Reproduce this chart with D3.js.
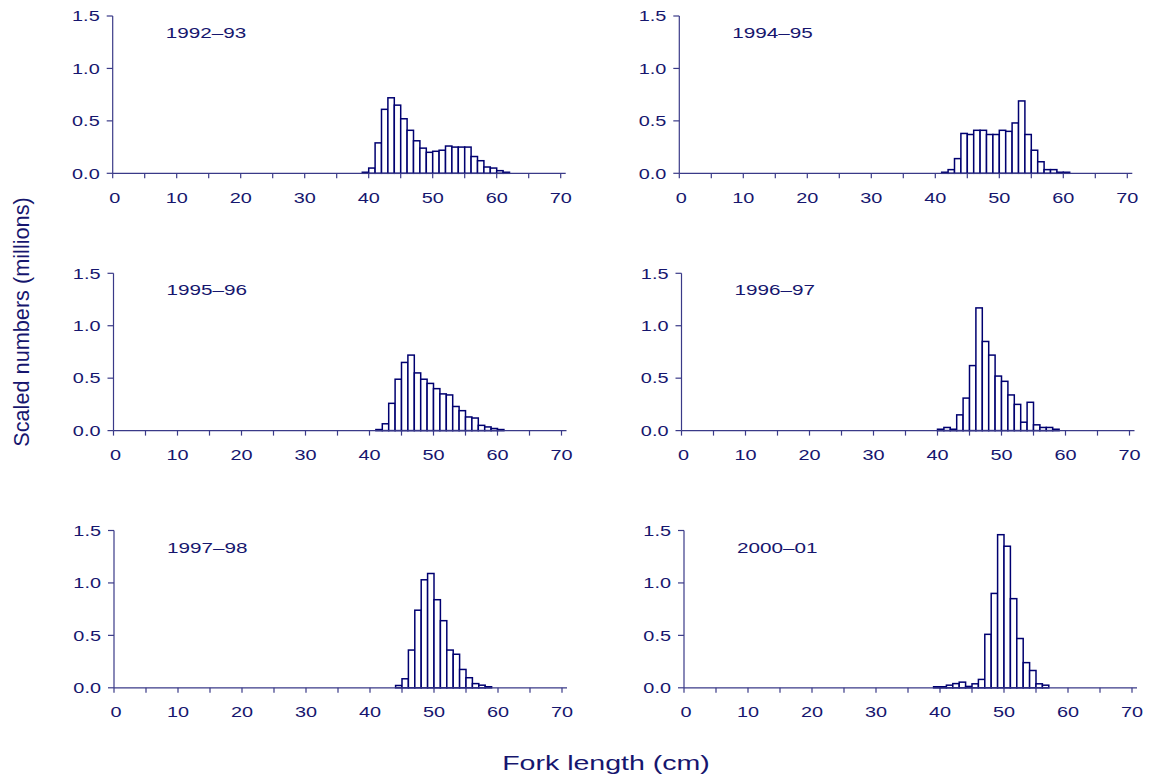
<!DOCTYPE html>
<html>
<head>
<meta charset="utf-8">
<script src="https://cdn.jsdelivr.net/npm/d3@7.9.0/dist/d3.min.js"></script>
<style>
  html, body { margin: 0; padding: 0; background: #fff; }
  svg { display: block; font-family: 'Liberation Sans', Arial, sans-serif; }
</style>
</head>
<body>
<svg id="chart" width="1151" height="778"></svg>
<script>
// ====== Data (scaled numbers, millions, per 1 cm fork-length bin) ======
const seasons = ['1992–93', '1994–95', '1995–96', '1996–97', '1997–98', '2000–01'];
const firstBin = [39, 41, 41, 40, 44, 39];

const counts1992 = [0.01, 0.05, 0.29, 0.61, 0.72, 0.65, 0.52, 0.41, 0.31, 0.24, 0.20, 0.21,
  0.22, 0.26, 0.25, 0.25, 0.25, 0.16, 0.12, 0.06, 0.05, 0.025, 0.01];
const counts1994 = [0.01, 0.035, 0.14, 0.38, 0.37, 0.41, 0.41, 0.37, 0.37, 0.41, 0.40, 0.48,
  0.69, 0.37, 0.22, 0.11, 0.035, 0.035, 0.01, 0.01];
const counts1995 = [0.01, 0.065, 0.26, 0.49, 0.65, 0.72, 0.55, 0.49, 0.45, 0.40, 0.35, 0.34,
  0.23, 0.19, 0.13, 0.12, 0.05, 0.035, 0.02, 0.01];
const counts1996 = [0.013, 0.03, 0.013, 0.15, 0.31, 0.62, 1.17, 0.85, 0.72, 0.52, 0.47, 0.34,
  0.25, 0.08, 0.27, 0.055, 0.03, 0.03, 0.013];
const counts1997 = [0.022, 0.086, 0.36, 0.74, 1.03, 1.09, 0.84, 0.64, 0.36, 0.32, 0.175,
  0.096, 0.04, 0.025, 0.01];
const counts2000 = [0.01, 0.01, 0.025, 0.04, 0.054, 0.013, 0.038, 0.08, 0.51, 0.90, 1.46,
  1.35, 0.85, 0.47, 0.24, 0.165, 0.038, 0.025];
const allCounts = [counts1992, counts1994, counts1995, counts1996, counts1997, counts2000];

const xTicks = [0, 10, 20, 30, 40, 50, 60, 70];
const xMinorTicks = [5, 15, 25, 35, 45, 55, 65];
const yTicks = [0, 0.5, 1.0, 1.5];

// ====== Layout ======
const ink = '#16166e';
const axisInk = '#3a3a88';
const colX0 = [[112.7, 679.3], [113.5, 681.5], [114, 684]];
const rowTop = [16, 273.3, 530.5];
const panelH = 157.3;
const unitW = 6.4;
const stretch = 1.38;

const svg = d3.select('#chart');

function stretchedText(g, x, y, str, size, anchor) {
  return g.append('text')
    .attr('transform', `translate(${x},${y}) scale(${stretch},1)`)
    .attr('text-anchor', anchor)
    .attr('font-size', size)
    .attr('fill', ink)
    .text(str);
}

seasons.forEach((season, k) => {
  const row = Math.floor(k / 2);
  const col = k % 2;
  const x0 = colX0[row][col];
  const top = rowTop[row];

  const x = d3.scaleLinear().domain([0, 70]).range([x0, x0 + 70 * unitW]);
  const y = d3.scaleLinear().domain([0, 1.5]).range([top + panelH, top]);
  const g = svg.append('g');

  // bars
  const bars = allCounts[k].map((v, i) => ({ bin: firstBin[k] + i, value: v }));
  g.selectAll('rect')
    .data(bars)
    .join('rect')
    .attr('x', (d) => x(d.bin))
    .attr('y', (d) => y(d.value))
    .attr('width', (d) => x(d.bin + 1) - x(d.bin))
    .attr('height', (d) => y(0) - y(d.value))
    .attr('fill', '#fff')
    .attr('stroke', '#000070')
    .attr('stroke-width', 1.5);

  // axes lines
  g.append('line')
    .attr('x1', x(0)).attr('x2', x(70) + 5)
    .attr('y1', y(0)).attr('y2', y(0))
    .attr('stroke', axisInk).attr('stroke-width', 1.2);
  g.append('line')
    .attr('x1', x(0)).attr('x2', x(0))
    .attr('y1', y(1.5)).attr('y2', y(0))
    .attr('stroke', axisInk).attr('stroke-width', 1.2);

  // x ticks (major + minor)
  g.selectAll('line.xt')
    .data(xTicks.concat(xMinorTicks))
    .join('line')
    .attr('class', 'xt')
    .attr('x1', (d) => x(d)).attr('x2', (d) => x(d))
    .attr('y1', y(0)).attr('y2', y(0) + 5)
    .attr('stroke', axisInk).attr('stroke-width', 1.2);
  xTicks.forEach((t) => {
    stretchedText(g, x(t) + (t === 0 ? 2 : 0), y(0) + 29.5, String(t), 14.4, 'middle');
  });

  // y ticks
  g.selectAll('line.yt')
    .data(yTicks)
    .join('line')
    .attr('class', 'yt')
    .attr('x1', x(0) - 6).attr('x2', x(0))
    .attr('y1', (d) => y(d)).attr('y2', (d) => y(d))
    .attr('stroke', axisInk).attr('stroke-width', 1.2);
  yTicks.forEach((t) => {
    stretchedText(g, x(0) - 13, y(t) + 5.2, d3.format('.1f')(t), 14.4, 'end');
  });

  // season label
  stretchedText(g, x0 + 53, top + 22, season, 15, 'start');
});

// ====== Axis titles ======
svg.append('text')
  .attr('transform', `translate(606,770) scale(1.36,1)`)
  .attr('text-anchor', 'middle')
  .attr('font-size', 21)
  .attr('fill', ink)
  .text('Fork length (cm)');

svg.append('text')
  .attr('transform', 'translate(29,322) rotate(-90)')
  .attr('text-anchor', 'middle')
  .attr('font-size', 21.7)
  .attr('fill', ink)
  .text('Scaled numbers (millions)');
</script>
</body>
</html>
